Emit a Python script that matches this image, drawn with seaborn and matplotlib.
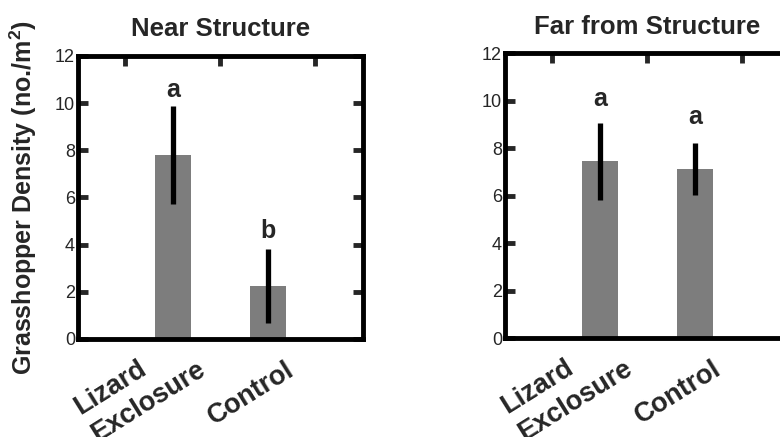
import numpy as np
import pandas as pd
import matplotlib
matplotlib.use("Agg")
import matplotlib.pyplot as plt
import matplotlib.transforms as mtransforms
import seaborn as sns

# ---- data ----
categories = ["Lizard\nExclosure", "Control"]
near_means = [7.8, 2.25]
near_errs = [2.08, 1.58]
near_letters = ["a", "b"]
near_letter_y = [10.25, 4.3]
far_means = [7.45, 7.12]
far_errs = [1.62, 1.08]
far_letters = ["a", "a"]
far_letter_y = [9.75, 9.0]
panel_titles = ["Near Structure", "Far from Structure"]
ylabel = "Grasshopper Density (no./m$^2$)"
yticks = [0, 2, 4, 6, 8, 10, 12]

sns.set_style("white")
plt.rcParams["font.family"] = ["Liberation Sans", "DejaVu Sans"]
plt.rcParams["mathtext.fontset"] = "custom"
plt.rcParams["mathtext.rm"] = "Liberation Sans:bold"
plt.rcParams["mathtext.default"] = "rm"

fig = plt.figure(figsize=(7.8, 4.37), dpi=100)
ax1 = fig.add_axes([0.100, 0.2243, 0.365, 0.6477])
ax2 = fig.add_axes([0.6474, 0.2265, 0.3654, 0.6522])

bar_color = "#7d7d7d"
label_offsets_px = [(37, -40), (31, -40)]
panels = [
    (ax1, near_means, near_errs, near_letters, near_letter_y, panel_titles[0]),
    (ax2, far_means, far_errs, far_letters, far_letter_y, panel_titles[1]),
]

for ax, means, errs, letters, letter_y, title in panels:
    df = pd.DataFrame({"Treatment": categories, "Density": means})
    sns.barplot(data=df, x="Treatment", y="Density", color=bar_color,
                width=0.38, saturation=1, ax=ax, errorbar=None)
    for p in ax.patches:
        p.set_edgecolor("none")
    xs = np.arange(len(categories))
    ax.errorbar(xs, means, yerr=errs, fmt="none", ecolor="black",
                elinewidth=3.8, capsize=0, zorder=5)
    for x, lab, ly in zip(xs, letters, letter_y):
        ax.text(x, ly, lab, ha="center", va="baseline", fontsize=18,
                fontweight="bold")
    ax.set_xlim(-1, 2)
    ax.set_ylim(0, 12)
    ax.set_yticks(yticks)
    ax.set_yticklabels([str(t) for t in yticks], fontsize=13)
    ax.set_xticks(xs)
    ax.set_xticklabels(categories, fontsize=19.5, fontweight="bold",
                       rotation=32, ha="right", va="bottom",
                       rotation_mode="anchor", multialignment="left",
                       linespacing=1.3)
    ax.set_xticks([-0.5, 0, 0.5, 1, 1.5], minor=True)
    ax.tick_params(axis="x", which="major", length=0, pad=0)
    ax.tick_params(axis="x", which="minor", top=True, bottom=False,
                   direction="in", length=7, width=3.5)
    ax.tick_params(axis="y", which="major", left=True, right=True,
                   direction="in", length=7, width=3.5, pad=2.2,
                   labelsize=13)
    for s in ax.spines.values():
        s.set_visible(True)
        s.set_linewidth(3.5)
        s.set_color("black")
    ax.set_xlabel("")
    ax.set_ylabel("")
    ax.set_title(title, fontsize=18.5, fontweight="bold", pad=14)
    for lbl, (dx, dy) in zip(ax.get_xticklabels(), label_offsets_px):
        off = mtransforms.ScaledTranslation(dx / 100, dy / 100,
                                            fig.dpi_scale_trans)
        lbl.set_transform(lbl.get_transform() + off)

ax1.set_ylabel(ylabel, fontsize=18, fontweight="bold")
ax1.yaxis.set_label_coords(-0.137, 0.5)

fig.savefig("out.png", dpi=100)
